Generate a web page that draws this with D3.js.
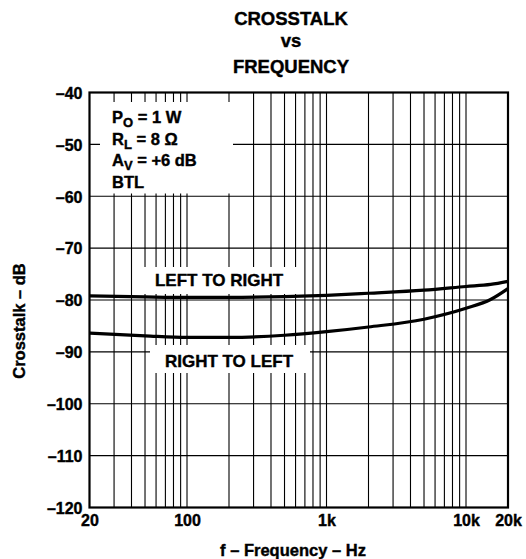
<!DOCTYPE html>
<html><head><meta charset="utf-8">
<script src="https://cdn.jsdelivr.net/npm/d3@7/dist/d3.min.js"></script>
<style>body{margin:0;background:#fff}svg{display:block}svg text{stroke:#000;stroke-width:0.4px}</style>
</head><body>
<svg id="c" width="526" height="559"></svg>
<script>
// ---- data ----
const freqs = [20, 50, 100, 200, 500, 1000, 2000, 5000, 10000, 15000, 20000];
const leftToRight = [-79.2, -79.4, -79.5, -79.5, -79.35, -79.1, -78.7, -78.1, -77.4, -77.0, -76.4];
const rightToLeft = [-86.4, -86.9, -87.2, -87.2, -86.8, -86.1, -85.2, -83.7, -81.6, -79.9, -77.8];
const yTicks = [-40, -50, -60, -70, -80, -90, -100, -110, -120];
const xTickValues = [20, 100, 1000, 10000, 20000];
const xTickLabels = ["20", "100", "1k", "10k", "20k"];
const xGrid = [30, 40, 50, 60, 70, 80, 90, 100, 200, 300, 400, 500, 600, 700, 800, 900,
               1000, 2000, 3000, 4000, 5000, 6000, 7000, 8000, 9000, 10000];
const seriesNames = ["LEFT TO RIGHT", "RIGHT TO LEFT"];

// ---- layout ----
const W = 526, H = 559;
const m = {left: 89.5, right: 18, top: 92.5, bottom: 51.5};
const pw = W - m.left - m.right, ph = H - m.top - m.bottom;
const FONT = "'Liberation Sans', Arial, Helvetica, sans-serif";

const svg = d3.select("#c");
const g = svg.append("g").attr("transform", `translate(${m.left},${m.top})`);

const x = d3.scaleLog().domain([20, 20000]).range([0, pw]);
const y = d3.scaleLinear().domain([-120, -40]).range([ph, 0]);

// grid
g.append("g").selectAll("line").data(xGrid).join("line")
  .attr("x1", d => x(d)).attr("x2", d => x(d)).attr("y1", 0).attr("y2", ph)
  .attr("stroke", "#000").attr("stroke-width", 1.1);
g.append("g").selectAll("line").data(yTicks.slice(1, -1)).join("line")
  .attr("x1", 0).attr("x2", pw).attr("y1", d => y(d)).attr("y2", d => y(d))
  .attr("stroke", "#000").attr("stroke-width", 1.1);

// white masks behind annotations
function mask(x0, y0, x1, y1) {
  svg.append("rect").attr("x", x0).attr("y", y0).attr("width", x1 - x0).attr("height", y1 - y0)
    .attr("fill", "#fff");
}
mask(100, 102, 233, 193.5);
mask(138, 267, 300, 294);
mask(150, 345, 310, 373);

// axes labels
const yAxis = d3.axisLeft(y).tickValues(yTicks).tickSize(0).tickPadding(7)
  .tickFormat(d => "\u2013" + Math.abs(d));
const ya = g.append("g").call(yAxis);
ya.select(".domain").remove();
ya.selectAll("text").attr("font-family", FONT).attr("font-weight", "bold")
  .attr("font-size", 16).attr("fill", "#000").attr("dy", "0.36em");

const xAxis = d3.axisBottom(x).tickValues(xTickValues).tickSize(0).tickPadding(7)
  .tickFormat((d, i) => xTickLabels[i]);
const xa = g.append("g").attr("transform", `translate(0,${ph})`).call(xAxis);
xa.select(".domain").remove();
xa.selectAll("text").attr("font-family", FONT).attr("font-weight", "bold")
  .attr("font-size", 16).attr("fill", "#000");

// curves
const line = d3.line().x(d => x(d[0])).y(d => y(d[1])).curve(d3.curveMonotoneX);
[leftToRight, rightToLeft].forEach(vals => {
  g.append("path").datum(freqs.map((f, i) => [f, vals[i]]))
    .attr("d", line).attr("fill", "none").attr("stroke", "#000").attr("stroke-width", 3.2);
});

// border
g.append("rect").attr("x", 0).attr("y", 0).attr("width", pw).attr("height", ph)
  .attr("fill", "none").attr("stroke", "#000").attr("stroke-width", 2.2);

// series labels
svg.append("text").attr("x", 219).attr("y", 286).attr("text-anchor", "middle")
  .attr("font-family", FONT).attr("font-weight", "bold").attr("font-size", 17)
  .text(seriesNames[0]);
svg.append("text").attr("x", 229).attr("y", 367).attr("text-anchor", "middle")
  .attr("font-family", FONT).attr("font-weight", "bold").attr("font-size", 17)
  .text(seriesNames[1]);

// conditions annotation (one text element per line)
function annLine(yy, main, sub, rest) {
  const t = svg.append("text").attr("x", 112).attr("y", yy).attr("font-family", FONT)
    .attr("font-weight", "bold").attr("font-size", 16.5).attr("fill", "#000");
  t.append("tspan").text(main);
  if (sub) {
    t.append("tspan").attr("dy", 4).attr("font-size", 13).text(sub);
    t.append("tspan").attr("dy", -4).text(rest);
  }
}
annLine(123, "P", "O", " = 1 W");
annLine(145, "R", "L", " = 8 \u03A9");
annLine(166, "A", "V", " = +6 dB");
annLine(188, "BTL");

// title
const title = ["CROSSTALK", "vs", "FREQUENCY"];
svg.append("g").selectAll("text").data(title).join("text")
  .attr("x", 291).attr("y", (d, i) => [25, 47, 73][i]).attr("text-anchor", "middle")
  .attr("font-family", FONT).attr("font-weight", "bold").attr("font-size", 18.5)
  .text(d => d);

// axis titles
svg.append("text").attr("x", 293).attr("y", 556).attr("text-anchor", "middle")
  .attr("font-family", FONT).attr("font-weight", "bold").attr("font-size", 16.5)
  .text("f \u2013 Frequency \u2013 Hz");
svg.append("text").attr("transform", "translate(25,321) rotate(-90)").attr("text-anchor", "middle")
  .attr("font-family", FONT).attr("font-weight", "bold").attr("font-size", 16.5)
  .text("Crosstalk \u2013 dB");
</script>
</body></html>
